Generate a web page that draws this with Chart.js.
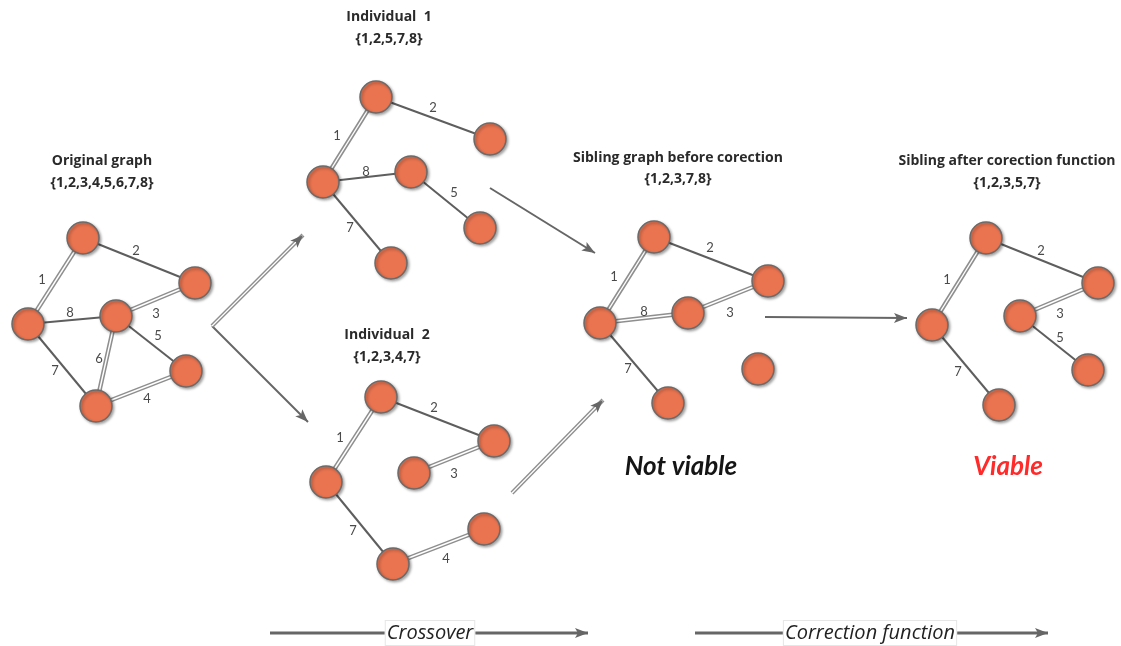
<!DOCTYPE html>
<html>
<head>
<meta charset="utf-8">
<script src="https://cdn.jsdelivr.net/npm/chart.js@4.4.1/dist/chart.umd.min.js"></script>
<style>
  html, body { margin: 0; padding: 0; background: #fff; }
  #wrap { width: 1121px; height: 646px; }
</style>
</head>
<body>
<div id="wrap"><canvas id="graphChart" width="1121" height="646"></canvas></div>
<script>
// node positions per graph (diagram units)
const origNodes = [[83, 238], [195, 283], [28, 324], [116, 316], [186, 371], [96, 406]]
const ind1Nodes = [[376, 97], [490, 139], [323, 182], [411, 172], [480, 228], [391, 263]]
const ind2Nodes = [[381, 397], [494, 441], [326, 482], [414, 473], [484, 529], [393, 564]]
const sibNodes = [[654, 237], [768, 281], [600, 323], [688, 313], [758, 369], [668, 403]]
const fixedNodes = [[986, 238], [1098, 283], [932, 325], [1020, 316], [1088, 370], [999, 405]]

// edges: [from, to, double line]
const origEdges = [[2, 0, true], [0, 1, false], [3, 1, true], [5, 4, true], [3, 4, false], [3, 5, true], [2, 5, false], [2, 3, false]]
const ind1Edges = [[2, 0, true], [0, 1, false], [2, 3, false], [3, 4, false], [2, 5, false]]
const ind2Edges = [[2, 0, true], [0, 1, false], [3, 1, true], [2, 5, false], [5, 4, true]]
const sibEdges = [[2, 0, true], [0, 1, false], [2, 3, true], [3, 1, true], [2, 5, false]]
const fixedEdges = [[2, 0, true], [0, 1, false], [3, 1, true], [3, 4, false], [2, 5, false]]

// edge numbers: [text, x, y]
const edgeLabels = [
    ['1', 42, 280], ['2', 136, 251], ['3', 156, 314], ['4', 147, 399], ['5', 158, 336], ['6', 99, 359], ['7', 55, 371], ['8', 70, 313],
    ['1', 337, 136], ['2', 433, 108], ['8', 366, 172], ['5', 454, 193], ['7', 350, 228],
    ['1', 340, 438], ['2', 434, 408], ['3', 454, 474], ['7', 353, 531], ['4', 446, 559],
    ['1', 614, 277], ['2', 710, 248], ['8', 644, 312], ['3', 730, 313], ['7', 628, 369],
    ['1', 947, 280], ['2', 1041, 251], ['3', 1060, 314], ['5', 1060, 338], ['7', 958, 372]
]

const titles = [
    ['Original graph', 102, 161], ['{1,2,3,4,5,6,7,8}', 102, 183],
    ['Individual  1', 389, 17], ['{1,2,5,7,8}', 389, 39],
    ['Individual  2', 387, 335], ['{1,2,3,4,7}', 387, 357],
    ['Sibling graph before corection', 678, 158], ['{1,2,3,7,8}', 678, 179],
    ['Sibling after corection function', 1007, 161], ['{1,2,3,5,7}', 1007, 183]
]

// arrows: [x1, y1, x2, y2, double line]
const arrows = [
    [212, 326, 303, 235, true], [212, 326, 308, 422, false],
    [490, 188, 595, 253, false], [512, 493, 603, 400, true],
    [765, 317, 907, 318, false],
    [270, 633, 588, 633, false], [695, 633, 1048, 633, false]
]

const stepLabels = [['Crossover', 430, 633], ['Correction function', 870, 633]]
const verdicts = [['Not viable', 681, 467, '#151515'], ['Viable', 1008, 467, '#ff2a2a']]

const datasets = []

function segment(a, b, color, width, order) {
    return {
        data: [{x: a[0], y: a[1]}, {x: b[0], y: b[1]}],
        showLine: true,
        borderColor: color,
        borderWidth: width,
        pointRadius: 0,
        clip: false,
        order: order
    }
}

function addGraph(nodes, edges) {
    edges.forEach(function(e) {
        const a = nodes[e[0]], b = nodes[e[1]]
        if (e[2]) {
            datasets.push(segment(a, b, '#8e8e8e', 4.5, 3))
            datasets.push(segment(a, b, '#ffffff', 1.4, 2))
        } else {
            datasets.push(segment(a, b, '#5e5e5e', 2, 3))
        }
    })
    datasets.push({
        data: nodes.map(n => ({x: n[0], y: n[1]})),
        pointRadius: 16,
        backgroundColor: '#ea7450',
        borderColor: '#6a6a6a',
        borderWidth: 1.5,
        clip: false,
        order: 0,
        isNode: true
    })
}

addGraph(origNodes, origEdges)
addGraph(ind1Nodes, ind1Edges)
addGraph(ind2Nodes, ind2Edges)
addGraph(sibNodes, sibEdges)
addGraph(fixedNodes, fixedEdges)

arrows.forEach(function(a) {
    const p = [a[0], a[1]], q = [a[2], a[3]]
    const bottom = a[1] === a[3] && a[1] > 600
    if (a[4]) {
        datasets.push(segment(p, q, '#8e8e8e', 4, 5))
        datasets.push(segment(p, q, '#ffffff', 1.3, 4))
    } else {
        datasets.push(segment(p, q, '#666666', bottom ? 3 : 2, 5))
    }
})

const textPlugin = {
    id: 'diagramText',
    beforeDatasetDraw(chart, args) {
        if (chart.data.datasets[args.index].isNode) {
            const ctx = chart.ctx
            ctx.shadowColor = 'rgba(0,0,0,0.35)'
            ctx.shadowBlur = 3
            ctx.shadowOffsetX = 1.5
            ctx.shadowOffsetY = 1.5
        }
    },
    afterDatasetDraw(chart, args) {
        const ctx = chart.ctx
        ctx.shadowColor = 'rgba(0,0,0,0)'
        ctx.shadowBlur = 0
        ctx.shadowOffsetX = 0
        ctx.shadowOffsetY = 0
    },
    afterDatasetsDraw(chart) {
        const ctx = chart.ctx
        const xs = chart.scales.x, ys = chart.scales.y
        ctx.save()

        // arrow heads
        arrows.forEach(function(a) {
            const x1 = xs.getPixelForValue(a[0]), y1 = ys.getPixelForValue(a[1])
            const x2 = xs.getPixelForValue(a[2]), y2 = ys.getPixelForValue(a[3])
            const ang = Math.atan2(y2 - y1, x2 - x1)
            ctx.save()
            ctx.translate(x2, y2)
            ctx.rotate(ang)
            ctx.beginPath()
            ctx.moveTo(0, 0)
            ctx.lineTo(-13, -5)
            ctx.lineTo(-10, 0)
            ctx.lineTo(-13, 5)
            ctx.closePath()
            ctx.fillStyle = '#666666'
            ctx.fill()
            ctx.restore()
        })

        ctx.textAlign = 'center'
        ctx.textBaseline = 'middle'

        ctx.fillStyle = '#2a2a2a'
        ctx.font = 'bold 14px "Open Sans"'
        titles.forEach(function(t) {
            ctx.fillText(t[0], xs.getPixelForValue(t[1]), ys.getPixelForValue(t[2]))
        })

        ctx.fillStyle = '#4a4a4a'
        ctx.font = '13px Lato'
        edgeLabels.forEach(function(t) {
            ctx.fillText(t[0], xs.getPixelForValue(t[1]), ys.getPixelForValue(t[2]))
        })

        ctx.font = 'italic 20px "Open Sans"'
        stepLabels.forEach(function(t) {
            const x = xs.getPixelForValue(t[1]), y = ys.getPixelForValue(t[2])
            const w = ctx.measureText(t[0]).width + 4
            ctx.fillStyle = '#ffffff'
            ctx.fillRect(x - w / 2, y - 13, w, 26)
            ctx.strokeStyle = '#e6e6e6'
            ctx.lineWidth = 1
            ctx.strokeRect(x - w / 2 + 0.5, y - 12.5, w - 1, 25)
            ctx.fillStyle = '#222'
            ctx.fillText(t[0], x, y)
        })

        ctx.font = 'bold italic 26px Lato'
        verdicts.forEach(function(t) {
            ctx.fillStyle = t[3]
            ctx.fillText(t[0], xs.getPixelForValue(t[1]), ys.getPixelForValue(t[2]))
        })

        ctx.restore()
    }
}

const ctxDiagram = document.getElementById('graphChart').getContext('2d')
new Chart(ctxDiagram, {
    type: 'scatter',
    data: { datasets: datasets },
    options: {
        responsive: false,
        animation: false,
        events: [],
        layout: { padding: 0, autoPadding: false },
        plugins: { legend: { display: false }, tooltip: { enabled: false } },
        scales: {
            x: { type: 'linear', min: 0, max: 1121, display: false },
            y: { type: 'linear', min: 0, max: 646, reverse: true, display: false }
        }
    },
    plugins: [textPlugin]
})
</script>
</body>
</html>
